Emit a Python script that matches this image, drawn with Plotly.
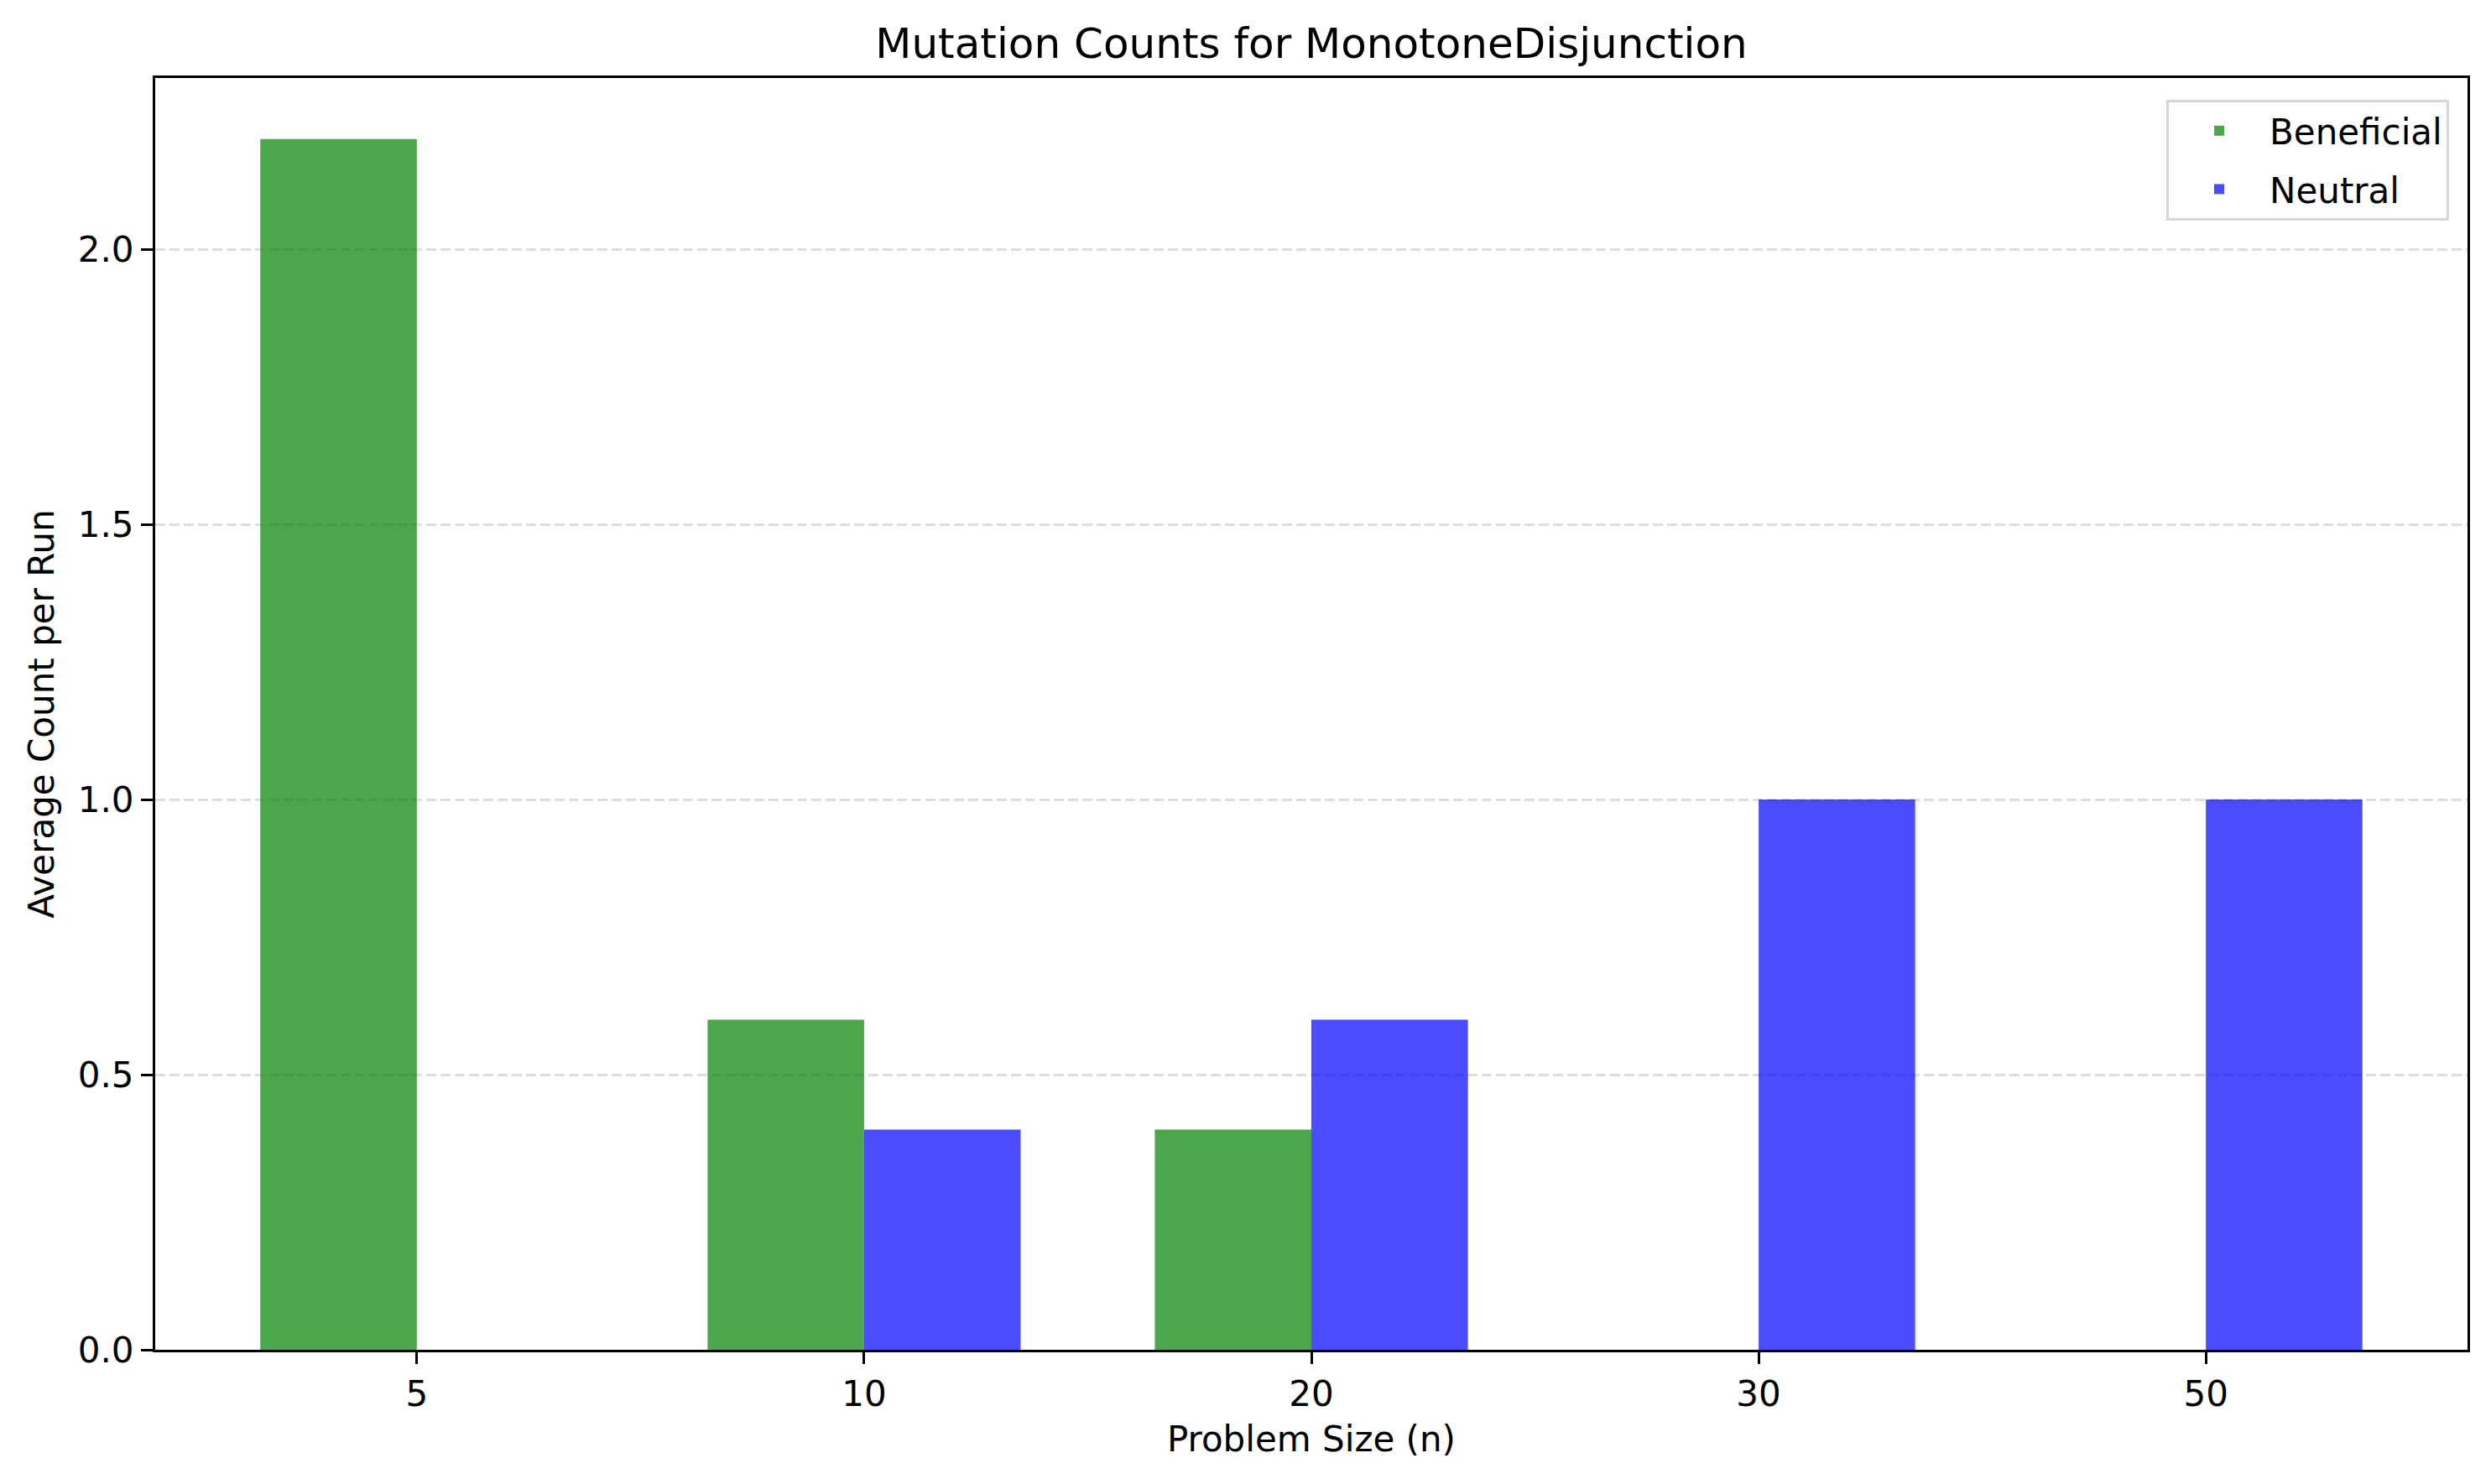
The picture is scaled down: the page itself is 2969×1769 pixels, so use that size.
import plotly.graph_objects as go

# values
problem_sizes = ["5", "10", "20", "30", "50"]
beneficial = [2.2, 0.6, 0.4, 0.0, 0.0]
neutral = [0.0, 0.4, 0.6, 1.0, 1.0]
y_ticks = [0.0, 0.5, 1.0, 1.5, 2.0]

font = "DejaVu Sans"
# the page body has an 8px margin, so the figure is drawn 8px smaller
body = 8
W, H = 2969 - body, 1769 - body
left, right, top, bottom = 185 - body, 28, 93 - body, 160
plot_w = W - left - right
plot_h = H - top - bottom

fig = go.Figure()
fig.add_trace(
    go.Bar(
        x=problem_sizes, y=beneficial, name="Beneficial", legendgroup="b",
        marker=dict(color="rgba(0,128,0,0.7)", line_width=0),
    )
)
fig.add_trace(
    go.Bar(
        x=problem_sizes, y=neutral, name="Neutral", legendgroup="n",
        marker=dict(color="rgba(0,0,255,0.7)", line_width=0),
    )
)

fig.update_layout(
    width=W,
    height=H,
    barmode="group",
    bargap=0.3,
    bargroupgap=0,
    plot_bgcolor="white",
    paper_bgcolor="white",
    margin=dict(l=left, r=right, t=top, b=bottom, pad=0),
    font=dict(family=font, size=42, color="black"),
    title=dict(
        text="Mutation Counts for MonotoneDisjunction",
        x=(left + plot_w / 2) / W,
        xanchor="center",
        y=1 - (51 - body) / H,
        yanchor="middle",
        yref="container",
        font=dict(size=50, family=font),
    ),
    legend=dict(
        x=(2919 - body - left) / plot_w,
        y=1 - (119 - body - top) / plot_h,
        xanchor="right",
        yanchor="top",
        bordercolor="#d6d6d6",
        borderwidth=3,
        bgcolor="white",
        font=dict(size=42),
        traceorder="grouped",
        tracegroupgap=12,
        itemwidth=110,
    ),
)

fig.update_xaxes(
    type="category",
    range=[-0.585, 4.585],
    showline=True,
    linecolor="black",
    linewidth=3,
    mirror=True,
    ticks="outside",
    ticklen=14,
    tickwidth=3,
    tickcolor="black",
    showgrid=False,
    title=dict(text="Problem Size (n)", font=dict(size=42), standoff=16),
)
fig.update_yaxes(
    range=[0, 2.311],
    tickvals=y_ticks,
    tickformat=".1f",
    showline=True,
    linecolor="black",
    linewidth=3,
    mirror=True,
    ticks="outside",
    ticklen=14,
    tickwidth=3,
    tickcolor="black",
    showgrid=True,
    gridcolor="#dedede",
    gridwidth=3,
    griddash="12px,5px",
    zeroline=False,
    title=dict(text="Average Count per Run", font=dict(size=42), standoff=16),
)

fig.write_html("out.html")
